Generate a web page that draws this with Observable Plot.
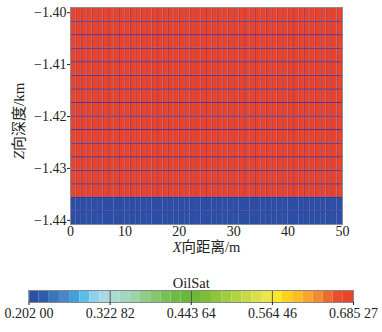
<!DOCTYPE html>
<html><head><meta charset="utf-8">
<script src="https://cdn.jsdelivr.net/npm/d3@7"></script>
<script src="https://cdn.jsdelivr.net/npm/@observablehq/plot@0.6"></script>
<style>
body{margin:0;background:#fff;width:382px;height:332px;overflow:hidden}
svg{display:block}
</style>
</head><body><div id="chart"></div>
<script>
// grid column edges (m)
const xEdges = [0,1,2,3,4,5,6,7,8,9,10,11,12,13,14,15,16,17,18,19,20,21,22,23,24,25,26,27,28,29,30,31,32,33,34,35,36,37,38,39,40,41,42,43,44,45,46,47,48,49,50];
// grid row edges (km)
const zEdges = [-1.39900,-1.40161,-1.40423,-1.40684,-1.40945,-1.41206,-1.41468,-1.41729,-1.41990,-1.42251,-1.42513,-1.42774,-1.43035,-1.43296,-1.43558,-1.43819,-1.44080];
// oil saturation per row (top to bottom)
const rowSat = [0.68,0.68,0.68,0.68,0.68,0.68,0.68,0.68,0.68,0.68,0.68,0.68,0.68,0.68,0.205,0.205];
const xTicks = [0,10,20,30,40,50];
const yTicks = [-1.44,-1.43,-1.42,-1.41,-1.40];
const satMin = 0.20200, satMax = 0.68527;
const legendTicks = [0.20200,0.32282,0.44364,0.56446,0.68527];
const legendLabels = ["0.202 00","0.322 82","0.443 64","0.564 46","0.685 27"];
const satColors = ["#2a4fa3","#2d5cae","#3a74bd","#4a86c8","#3fa0da","#5bbde9","#8fd0ec","#a6d9e0",
  "#a8dccf","#a2d7c0","#9ed3a8","#90cc88","#84c66e","#76c055","#6dbb44","#69b83a",
  "#6bb935","#7bbf37","#8ec63b","#a0cc3f","#b4d343","#c6da46","#d8e04a","#ebe744",
  "#fde82b","#fdd21f","#fbbd1f","#f8a62b","#f38c2e","#ec6c2c","#e8502b","#e9432a"];
const xLabel = "X向距离/m";
const yLabel = "Z向深度/km";

const nBins = satColors.length;
const binEdges = satColors.map((c,i)=> satMin + i*(satMax-satMin)/nBins).concat([satMax]);
const thresholds = binEdges.slice(1, nBins);
const colorOpts = {type:"threshold", domain: thresholds, range: satColors};

const cells = [];
rowSat.forEach((s, r) => {
  for (let c = 0; c < xEdges.length - 1; c++) {
    cells.push({x1: xEdges[c], x2: xEdges[c+1], y1: zEdges[r+1], y2: zEdges[r], sat: s});
  }
});
const bins = satColors.map((c,i)=>({x1: binEdges[i], x2: binEdges[i+1], v: (binEdges[i]+binEdges[i+1])/2}));

const font = "'Liberation Serif','Noto Sans CJK SC',serif";
const minus = d => (d < 0 ? "\u2212" : "") + Math.abs(d).toFixed(2);

const plot = Plot.plot({
  width: 382, height: 255,
  marginLeft: 70, marginRight: 40, marginTop: 7, marginBottom: 31,
  x: {domain: [0, 50]},
  y: {domain: [-1.4408, -1.3990]},
  color: colorOpts,
  style: {fontFamily: font, fontSize: "14px", color: "#222", background: "#fff"},
  marks: [
    Plot.rect(cells, {x1: "x1", x2: "x2", y1: "y1", y2: "y2", fill: "sat"}),
    Plot.ruleX(xEdges, {stroke: "#4636a0", strokeWidth: 0.8, strokeOpacity: 0.5}),
    Plot.ruleY(zEdges, {stroke: "#3030a8", strokeWidth: 1, strokeOpacity: 0.8}),
    Plot.frame({stroke: "#8a8a9a"}),
    Plot.axisY(yTicks, {tickSize: 3, tickPadding: 1, tickFormat: minus, label: null, fontSize: 14}),
    Plot.axisX(xTicks, {tickSize: 0, tickPadding: 2, label: null, fontSize: 14}),
    Plot.text([xLabel], {frameAnchor: "bottom", lineAnchor: "middle", dy: 23, text: d => d, fontSize: 14.5}),
    Plot.text([yLabel], {frameAnchor: "left", textAnchor: "middle", lineAnchor: "middle", dx: -51, dy: 5, rotate: -90, text: d => d, fontSize: 15})
  ]
});

const legend = Plot.plot({
  width: 382, height: 77,
  marginLeft: 28.5, marginRight: 29, marginTop: 35, marginBottom: 30,
  x: {domain: [satMin, satMax]},
  color: colorOpts,
  style: {fontFamily: font, fontSize: "14px", color: "#222", background: "#fff"},
  marks: [
    Plot.rect(bins, {x1: "x1", x2: "x2", fill: "v"}),
    Plot.ruleX(legendTicks.slice(1, -1), {stroke: "#333", strokeWidth: 0.8}),
    Plot.frame({stroke: "#888"}),
    Plot.axisX(legendTicks, {tickSize: 3, tickPadding: 3, label: null, fontSize: 14,
      tickFormat: d => legendLabels[legendTicks.indexOf(d)]}),
    Plot.text(["OilSat"], {frameAnchor: "top", dy: -3, lineAnchor: "bottom", text: d => d, fontSize: 14.5})
  ]
});

// italic axis-letter prefixes
function italicize(svg) {
  d3.select(svg).selectAll("text").each(function() {
    const t = d3.select(this);
    const s = t.text();
    if (s === xLabel || s === yLabel) {
      t.text("");
      t.append("tspan").attr("font-style", "italic").text(s[0]);
      t.append("tspan").text(s.slice(1));
    }
  });
}
italicize(plot);

const root = document.getElementById("chart");
root.appendChild(plot);
root.appendChild(legend);
</script>
</body></html>
